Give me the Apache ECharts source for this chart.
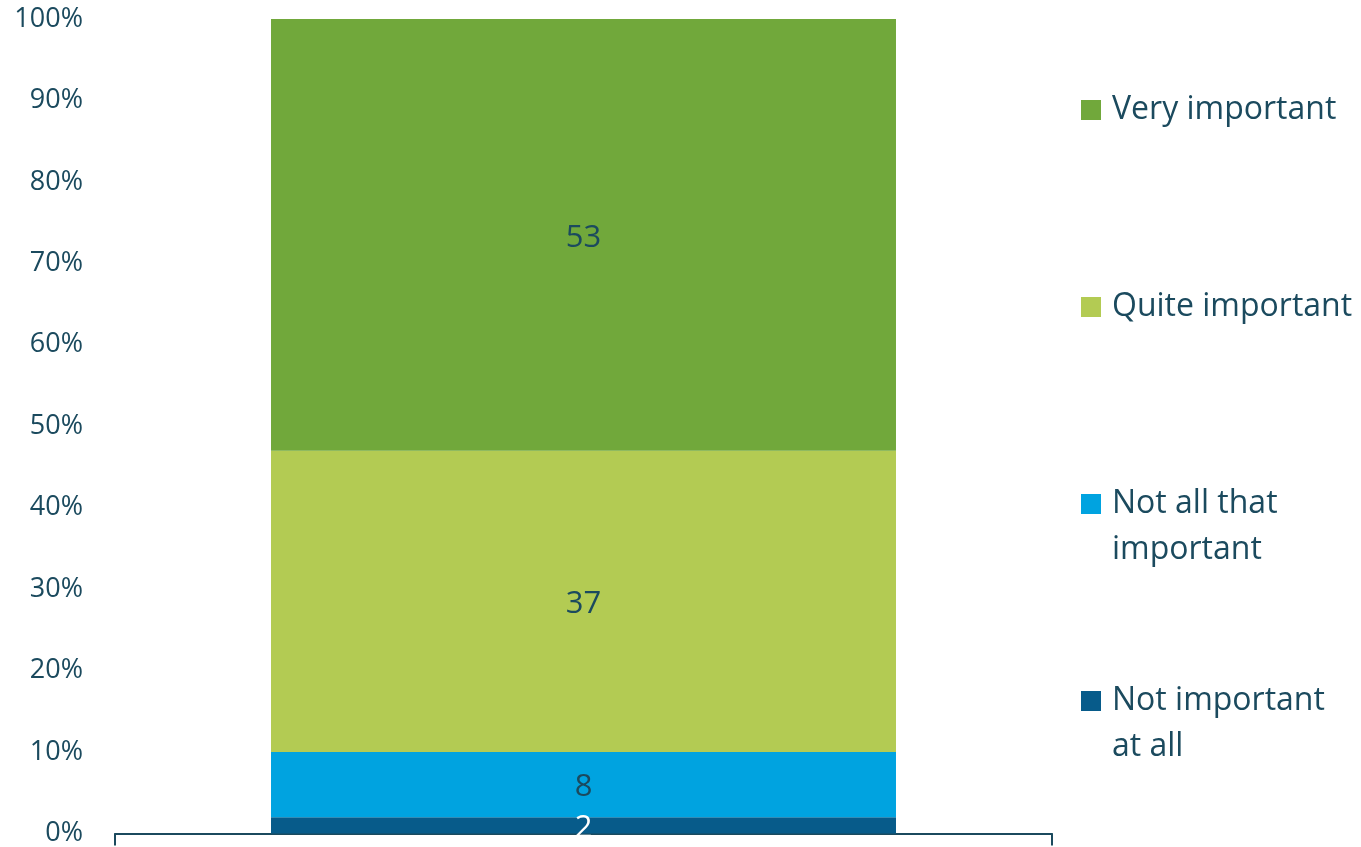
<!DOCTYPE html>
<html><head><meta charset="utf-8">
<script src="https://cdn.jsdelivr.net/npm/echarts@6/dist/echarts.min.js"></script>
<style>html,body{margin:0;padding:0;background:#fff}#c{width:1361px;height:847px}</style>
</head><body><div id="c"></div>
<script>
const categories = [''];
const seriesNames = ['Not important at all', 'Not all that important', 'Quite important', 'Very important'];
const seriesValues = [[2], [8], [37], [53]];
const seriesColors = ['#075B8A', '#00A3E0', '#B3CB53', '#71A83B'];
const labelColors = ['#ffffff', '#1B4A5E', '#1B4A5E', '#1B4A5E'];
const legendOrder = ['Very important', 'Quite important', 'Not all that important', 'Not important at all'];
const legendText = {
  'Very important': 'Very important',
  'Quite important': 'Quite important',
  'Not all that important': '\nNot all that\nimportant',
  'Not important at all': '\nNot important\nat all'
};
const txt = '#1B4A5E';
const font = '"Open Sans", sans-serif';
const LH = 46;

const chart = echarts.init(document.getElementById('c'));
chart.setOption({
  animation: false,
  grid: {left: 115, right: 309, top: 19, bottom: 13},
  xAxis: {
    type: 'category', data: categories,
    axisLine: {show: true, lineStyle: {color: txt, width: 2}},
    axisTick: {show: true, length: 12, lineStyle: {color: txt, width: 2}},
    axisLabel: {show: false}
  },
  yAxis: {
    type: 'value', min: 0, max: 100, interval: 10,
    axisLine: {show: false}, axisTick: {show: false}, splitLine: {show: false},
    axisLabel: {formatter: '{value}%', color: txt, fontSize: 27, fontFamily: font, margin: 32}
  },
  legend: {
    orient: 'vertical', left: 1081, top: 110 - LH * 1.5, padding: 0,
    itemWidth: 20, itemHeight: 20, itemGap: 197 - LH * 3, icon: 'rect',
    selectedMode: false,
    formatter: n => legendText[n] || n,
    textStyle: {color: txt, fontSize: 32, fontFamily: font, lineHeight: LH},
    data: legendOrder.map(n => ({
      name: n,
      textStyle: {padding: legendText[n].indexOf('\n') >= 0 ? [0, 0, 0, 6] : [LH, 0, LH, 6]}
    }))
  },
  series: seriesNames.map((n, i) => ({
    name: n, type: 'bar', stack: 'total', data: seriesValues[i],
    barWidth: '66.7%',
    itemStyle: {color: seriesColors[i]},
    label: {show: true, position: 'inside', offset: [0, 3], color: labelColors[i], fontSize: 31, fontFamily: font}
  }))
});
</script></body></html>
